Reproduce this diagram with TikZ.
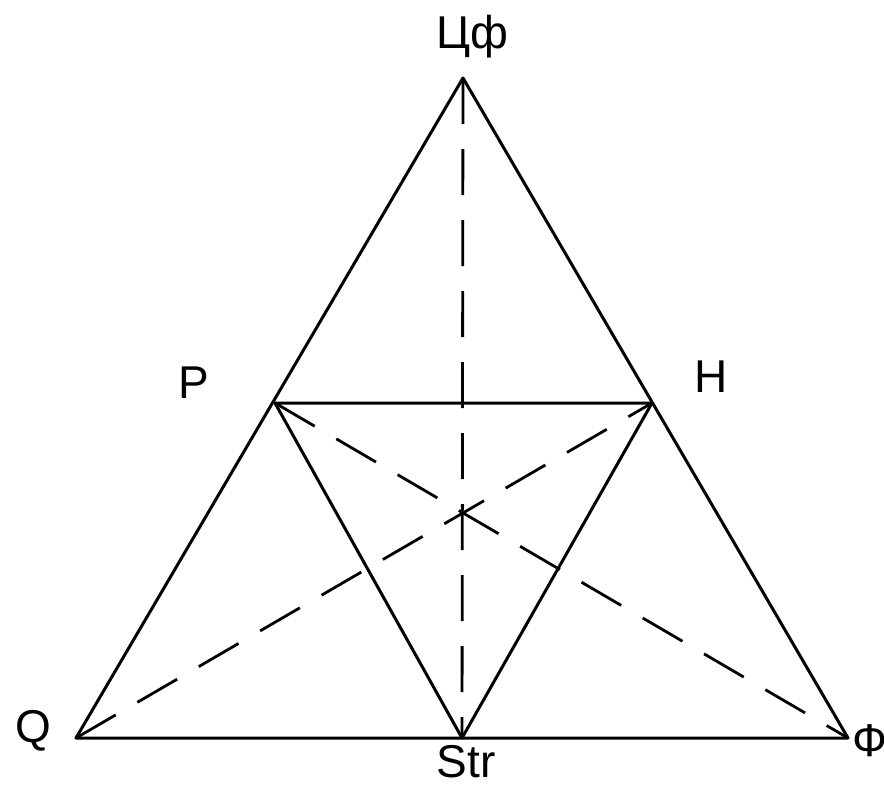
\documentclass[tikz,border=0pt]{standalone}
\usepackage{fontspec}
\setmainfont{Liberation Sans}
\begin{document}
\begin{tikzpicture}[x=1pt,y=-1pt,
  edge/.style={line width=3pt, line cap=round, line join=round},
  dashedge/.style={line width=2.8pt, dash pattern=on 46pt off 25pt},
  lbl/.style={font=\fontsize{46}{50}\selectfont, inner sep=0pt}]
\useasboundingbox[fill=white] (0,0) rectangle (884,790);
\coordinate (C) at (463,78);
\coordinate (Q) at (76,738);
\coordinate (F) at (848,738);
\coordinate (P) at (275,403);
\coordinate (H) at (652,403);
\coordinate (S) at (462,738);
% outer triangle
\draw[edge] (C) -- (Q) -- (F) -- cycle;
% inner triangle
\draw[edge] (P) -- (H) -- (S) -- cycle;
% dashed medians
\draw[dashedge] (C) -- (S);
\draw[dashedge] (Q) -- (H);
\draw[dashedge] (P) -- (F);
% labels
\node[lbl] (lC) at (472,37) {Цф};
\node[lbl] (lP) at (194,383) {P};
\node[lbl] (lH) at (711,377) {H};
\node[lbl] (lQ) at (33,731) {Q};
\node[lbl] (lS) at (466,762) {Str};
\node[lbl, anchor=west] (lF) at (852,741) {Ф};
\end{tikzpicture}
\end{document}
